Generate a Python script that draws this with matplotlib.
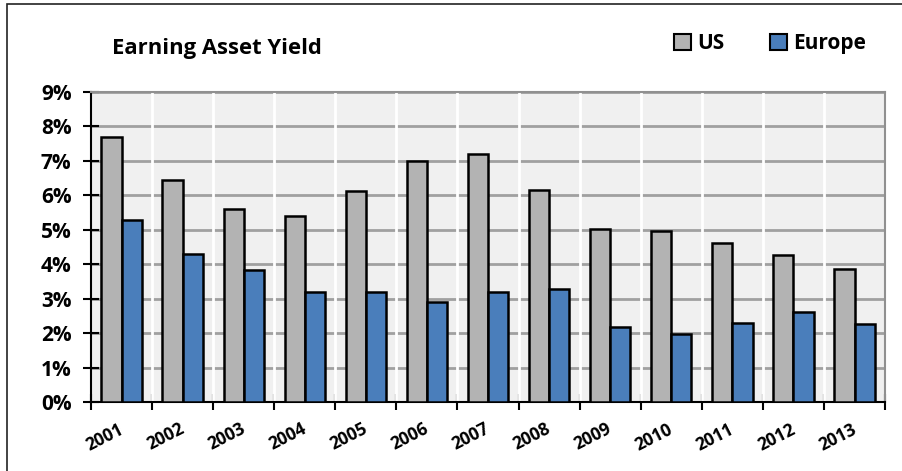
import numpy as np
import matplotlib.pyplot as plt
from matplotlib.patches import Patch, Rectangle
from matplotlib.ticker import FuncFormatter, MultipleLocator

plt.rcParams['font.family'] = ['Open Sans', 'DejaVu Sans']
plt.rcParams['font.weight'] = 'bold'

# data
years = ['2001', '2002', '2003', '2004', '2005', '2006', '2007',
         '2008', '2009', '2010', '2011', '2012', '2013']
us = [7.7, 6.45, 5.6, 5.4, 6.12, 7.0, 7.2, 6.15, 5.03, 4.97, 4.62, 4.27, 3.87]
europe = [5.28, 4.3, 3.83, 3.2, 3.2, 2.9, 3.2, 3.28, 2.18, 1.98, 2.3, 2.6, 2.27]

fig = plt.figure(figsize=(9.02, 4.71), dpi=100)
ax = fig.add_axes([0.1009, 0.1465, 0.8803, 0.6582])
ax.set_facecolor('#f0f0f0')

x = np.arange(len(years))
w = 0.33
ax.bar(x - w / 2, us, w, color='#b3b3b3', edgecolor='black', linewidth=1.8, zorder=3)
ax.bar(x + w / 2, europe, w, color='#4a7ebb', edgecolor='black', linewidth=1.8, zorder=3)

ax.set_xlim(-0.5, len(years) - 0.5)
ax.set_ylim(0, 9)
ax.yaxis.set_major_locator(MultipleLocator(1))
ax.yaxis.set_major_formatter(FuncFormatter(lambda v, p: f'{v:.0f}%'))
ax.grid(axis='y', color='#a0a0a0', linewidth=2, zorder=1)

# category boundaries: white vertical lines and ticks
bounds = np.arange(len(years) + 1) - 0.5
for b in bounds[1:-1]:
    ax.axvline(b, color='white', linewidth=2, zorder=2)
ax.set_xticks(bounds)
ax.set_xticklabels([])
ax.set_xticks(x - 0.06, minor=True)
ax.set_xticklabels(years, minor=True, rotation=27, fontsize=12.5, fontweight='bold',
                   ha='right', rotation_mode='anchor')
ax.tick_params(axis='x', which='minor', length=0, pad=13)
ax.tick_params(axis='x', which='major', direction='inout', length=12, width=1.5)
ax.tick_params(axis='y', direction='inout', length=12, width=1.5, labelsize=15, pad=8)
for lab in ax.get_yticklabels():
    lab.set_fontweight('bold')

ax.spines['left'].set_color('black')
ax.spines['bottom'].set_color('black')
ax.spines['left'].set_linewidth(1.5)
ax.spines['bottom'].set_linewidth(1.5)
ax.spines['top'].set_color('#909090')
ax.spines['right'].set_color('#909090')
ax.spines['top'].set_linewidth(1.5)
ax.spines['right'].set_linewidth(1.5)

fig.text(0.124, 0.898, 'Earning Asset Yield', fontsize=15.8, fontweight='bold', va='center')

handles = [Patch(facecolor='#b3b3b3', edgecolor='black', linewidth=1.5),
           Patch(facecolor='#4a7ebb', edgecolor='black', linewidth=1.5)]
fig.legend(handles, ['US', 'Europe'], ncol=2, frameon=False, loc='center',
           bbox_to_anchor=(0.854, 0.908), handlelength=0.8,
           handleheight=0.8, handletextpad=0.3, columnspacing=2.2,
           prop={'weight': 'bold', 'size': 15})

# outer frame of the picture
fig.patches.append(Rectangle((0.008, -0.01), 1.1, 1.0015, transform=fig.transFigure,
                             fill=False, edgecolor='#222222', linewidth=1.2))

fig.savefig('out.png', dpi=100)
